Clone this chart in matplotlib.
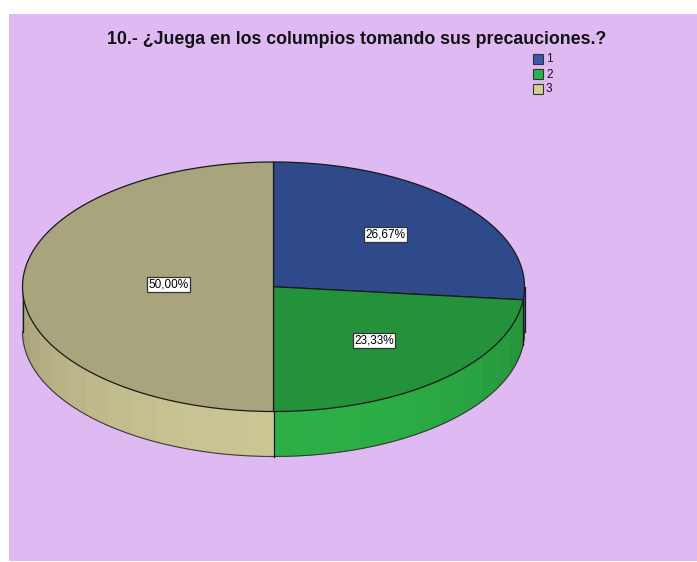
import matplotlib
matplotlib.use("Agg")

import matplotlib.pyplot as plt
import numpy as np
from matplotlib.patches import Polygon, Rectangle

title = "10.- ¿Juega en los columpios tomando sus precauciones.?"
categories = ["1", "2", "3"]
percents = [26.67, 23.33, 50.00]

top_colors = ["#2E4A8B", "#24923A", "#A8A47E"]
side_colors = ["#3A5AA8", "#2CB046", "#CBC594"]
legend_colors = ["#3B5AAA", "#2BB248", "#D5CE96"]
label_radius = [0.6, 0.6, 0.42]

W, H = 697, 562
cx, cy = 273.5, 286.75
rx, ry = 251.0, 124.75
depth = 45.0
bg = "#DFB9F2"

plt.rcParams["font.family"] = ["Liberation Sans", "DejaVu Sans"]

fig = plt.figure(figsize=(W / 100, H / 100), dpi=100, facecolor="white")
ax = fig.add_axes([0, 0, 1, 1])
ax.set_xlim(0, W)
ax.set_ylim(H, 0)
ax.axis("off")

ax.add_patch(Rectangle((9, 14), W - 9, H - 1 - 14, facecolor=bg, edgecolor="none", zorder=0))


def rim(theta_deg, dy=0.0):
    # theta measured clockwise from 12 o'clock
    t = np.radians(theta_deg)
    return cx + rx * np.sin(t), cy - ry * np.cos(t) + dy


def shade(hex_color, f):
    rgb = np.array(matplotlib.colors.to_rgb(hex_color))
    return tuple(np.clip(rgb * f, 0, 1))


total = sum(percents)
bounds = np.concatenate([[0], np.cumsum(percents) / total * 360])

# side wall, only the front half (90..270 deg) shows
for i in range(len(percents)):
    a0 = max(bounds[i], 90)
    a1 = min(bounds[i + 1], 270)
    if a1 <= a0:
        continue
    n = max(1, int(np.ceil((a1 - a0) / 7)))
    steps = np.linspace(a0, a1, n + 1)
    for s0, s1 in zip(steps[:-1], steps[1:]):
        th = np.linspace(s0, s1, 8)
        xt, yt = rim(th)
        xb, yb = rim(th[::-1], depth)
        mid = 0.5 * (s0 + s1)
        f = 0.8 + 0.2 * np.cos(np.radians(mid - 180))
        c = shade(side_colors[i], f)
        ax.add_patch(Polygon(np.column_stack([np.r_[xt, xb], np.r_[yt, yb]]),
                             closed=True, facecolor=c, edgecolor=c, lw=0.6, zorder=2))

# side outlines
th = np.linspace(90, 270, 200)
xb, yb = rim(th, depth)
ax.plot(xb, yb, color="#3A3A3A", lw=0.8, zorder=3)
for a in [90, 270] + [b for b in bounds if 90 < b < 270]:
    x0, y0 = rim(a)
    ax.plot([x0, x0], [y0, y0 + depth], color="#1A1A1A", lw=0.9, zorder=3)

# top face wedges
for i in range(len(percents)):
    th = np.linspace(bounds[i], bounds[i + 1], 120)
    xt, yt = rim(th)
    pts = np.column_stack([np.r_[cx, xt], np.r_[cy, yt]])
    ax.add_patch(Polygon(pts, closed=True, facecolor=top_colors[i],
                         edgecolor="#1A1A1A", lw=0.9, zorder=4))

# percentage labels
for i, p in enumerate(percents):
    mid = 0.5 * (bounds[i] + bounds[i + 1])
    t = np.radians(mid)
    lx = cx + rx * label_radius[i] * np.sin(t)
    ly = cy - ry * label_radius[i] * np.cos(t) - 2
    ax.text(lx, ly, f"{p:.2f}%".replace(".", ","), ha="center", va="center",
            fontsize=8.5, color="black", zorder=6,
            bbox=dict(boxstyle="square,pad=0.12", facecolor="white",
                      edgecolor="#333333", lw=0.9))

ax.text(357, 39.5, title, ha="center", va="center", fontsize=12.75,
        fontweight="bold", color="#111111", zorder=6)

# legend
for i, (cat, col) in enumerate(zip(categories, legend_colors)):
    y0 = 54 + i * 15
    ax.add_patch(Rectangle((533, y0), 10, 10, facecolor=col, edgecolor="#333333",
                           lw=0.8, zorder=6))
    ax.text(546, y0 + 5.5, cat, ha="left", va="center", fontsize=8.5,
            color="#111111", zorder=6)

fig.savefig("out.png", dpi=100, facecolor="white")
